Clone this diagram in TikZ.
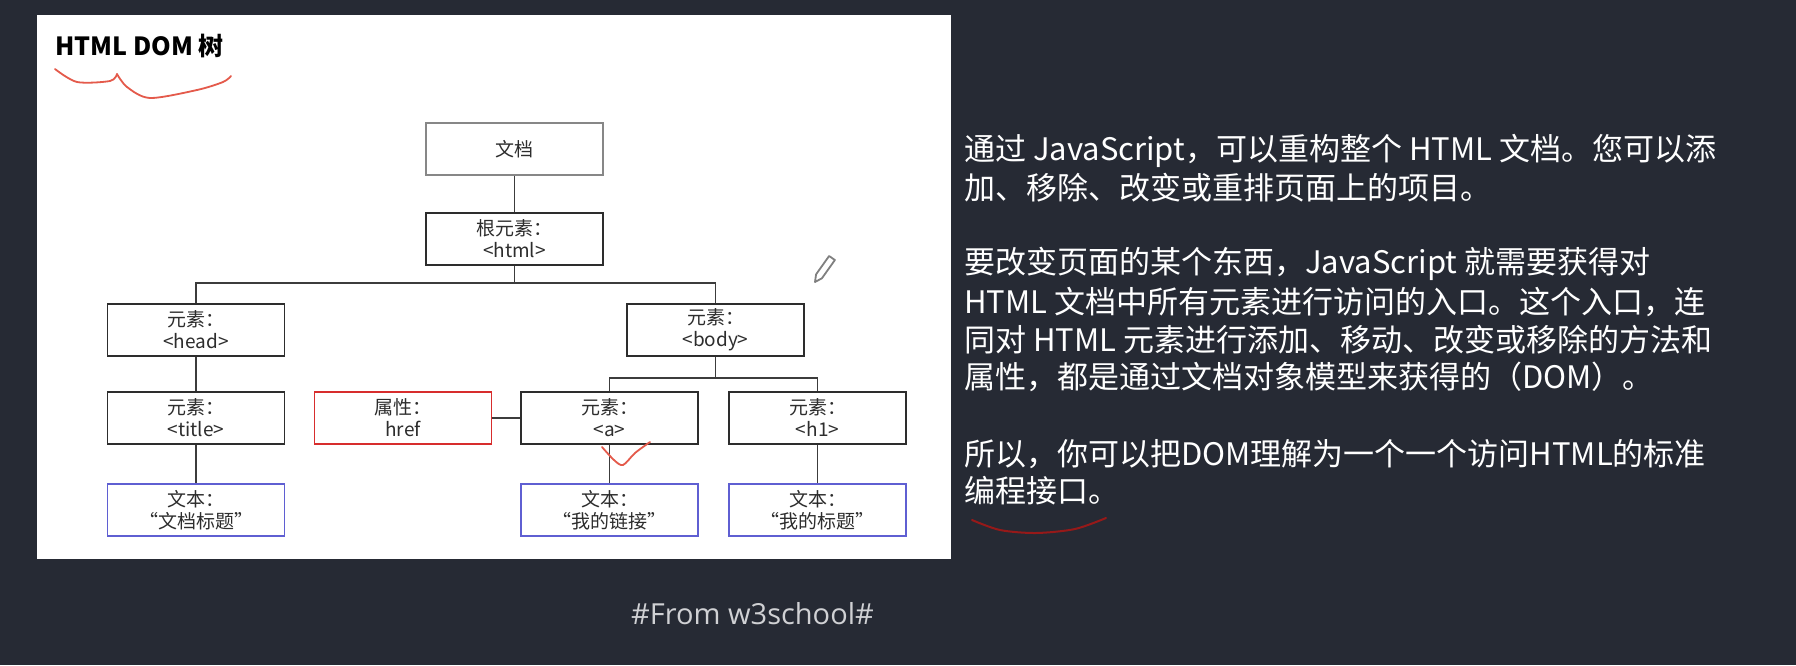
\documentclass[tikz,border=0pt]{standalone}
\usepackage{fontspec}
\setmainfont{Noto Sans CJK SC}
\newfontfamily\notefont{Open Sans}
\definecolor{slide}{RGB}{38,42,52}
\definecolor{boxline}{RGB}{45,45,45}
\definecolor{docline}{RGB}{135,135,135}
\definecolor{attrline}{RGB}{215,45,45}
\definecolor{textline}{RGB}{95,95,210}
\definecolor{wire}{RGB}{60,60,60}
\definecolor{ink}{RGB}{228,90,75}
\definecolor{darkink}{RGB}{150,25,25}
\definecolor{note}{RGB}{208,209,212}
\begin{document}
\begin{tikzpicture}[x=1pt,y=-1pt,
  box/.style={draw=boxline,line width=1.8pt,fill=white,minimum width=177pt,minimum height=52pt,inner sep=0pt,align=center,text=boxline,font=\fontsize{19}{22}\selectfont},
  wirepath/.style={draw=wire,line width=1.6pt},
  para/.style={anchor=west,inner sep=0pt,text=white,font=\fontsize{31}{38}\selectfont}]
\fill [slide] (0,0) rectangle (1796,665);
\useasboundingbox (0,0) rectangle (1796,665);
\fill [white] (37,15) rectangle (951,559);
\node [anchor=base west,inner sep=0pt,font=\bfseries\fontsize{25}{29}\selectfont] (heading) at (55,55) {HTML DOM 树};
\draw [ink,line width=1.8pt,line cap=round,line join=round] plot [smooth] coordinates {(55,69) (77,82) (110,81) (117,74)};
\draw [ink,line width=1.8pt,line cap=round,line join=round] plot [smooth] coordinates {(117,74) (127,87) (150,98) (197,90) (223,82) (231,76)};
\node [box,draw=docline] (doc) at (514.5,149) {文档};
\node [box] (root) at (514.5,239) {根元素：\\<html>};
\node [box] (head) at (196,330) {元素：\\<head>};
\node [box] (body) at (715.5,330) {元素：\\<body>};
\node [box] (title) at (196,418) {元素：\\<title>};
\node [box,draw=attrline] (attr) at (403,418) {属性：\\href};
\node [box] (elema) at (609.5,418) {元素：\\<a>};
\node [box] (elemh) at (817.5,418) {元素：\\<h1>};
\node [box,draw=textline] (texttitle) at (196,510) {文本：\\“文档标题”};
\node [box,draw=textline] (textlink) at (609.5,510) {文本：\\“我的链接”};
\node [box,draw=textline] (texth) at (817.5,510) {文本：\\“我的标题”};
\draw [wirepath] (doc.south) -- (root.north);
\draw [wirepath] (root.south) -- ++(0,17) coordinate (rootsplit);
\draw [wirepath] (rootsplit) -| (head.north);
\draw [wirepath] (rootsplit) -| (body.north);
\draw [wirepath] (head.south) -- (title.north);
\draw [wirepath] (body.south) -- ++(0,21) coordinate (bodysplit);
\draw [wirepath] (bodysplit) -| (elema.north);
\draw [wirepath] (bodysplit) -| (elemh.north);
\draw [wirepath] (attr.east) -- (elema.west);
\draw [wirepath] (title.south) -- (texttitle.north);
\draw [wirepath] (elema.south) -- (textlink.north);
\draw [wirepath] (elemh.south) -- (texth.north);
\draw [ink,line width=1.8pt,line cap=round,line join=round] plot [smooth] coordinates {(602,447) (614,460) (623,465) (635,453) (650,442)};
\draw [gray,line width=1.8pt,line join=round] (815,282) -- (821.9,278.3) -- (834.9,260) -- (829.1,256) -- (816.1,274.3) -- cycle;
\node [para] (p1) at (964,151) {通过 JavaScript，可以重构整个 HTML 文档。您可以添};
\node [para] (p2) at (964,188) {加、移除、改变或重排页面上的项目。};
\node [para] (p3) at (964,264) {要改变页面的某个东西，JavaScript 就需要获得对};
\node [para] (p4) at (964,302) {HTML 文档中所有元素进行访问的入口。这个入口，连};
\node [para] (p5) at (964,340) {同对 HTML 元素进行添加、移动、改变或移除的方法和};
\node [para] (p6) at (964,377) {属性，都是通过文档对象模型来获得的（DOM）。};
\node [para] (p7) at (964,454) {所以，你可以把DOM理解为一个一个访问HTML的标准};
\node [para] (p8) at (964,491) {编程接口。};
\draw [darkink,line width=2pt,line cap=round] plot [smooth] coordinates {(972,520) (1000,530) (1036,533) (1075,529) (1106,518)};
\node [anchor=west,inner sep=0pt,text=note,font=\notefont\fontsize{29}{34}\selectfont] (source) at (631,614) {\#From w3school\#};
\end{tikzpicture}
\end{document}
